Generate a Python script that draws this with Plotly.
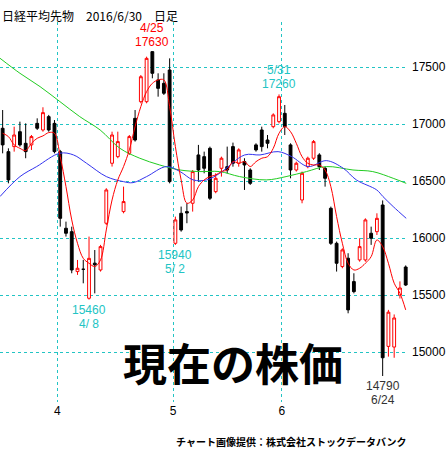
import plotly.graph_objects as go

idx = list(range(1, 72))
opens = [16963,16758,16802,16933,16831,16817,17006,16948,17065,17006,
         16758,16086,16056,15706,15726,15472,15780,15720,16130,16656,
         16714,16232,16743,17050,17196,17196,17635,17387,17357,17474,
         15954,16217,16232,16305,16729,16714,16787,16407,16612,16626,
         16802,16656,16670,16597,16817,16948,16860,16977,17021,17094,
         16817,16597,16334,16626,16700,16729,16612,16261,15954,15750,
         15823,15618,15808,15808,16042,16056,16290,15050,15044,15500,15746]
highs = [17123,16787,16977,17021,17006,16904,17050,17147,17080,17035,
         16773,16144,16100,15808,15808,16013,15895,15940,16437,16933,
         16933,16451,16904,17123,17430,17591,17630,17445,17445,17576,
         16188,16276,16305,16597,16817,16758,16802,16568,16714,16802,
         16837,16787,16700,16612,16831,16977,16904,17094,17260,17167,
         16831,16670,16583,16714,16860,16744,16626,16276,15969,15910,
         15867,15691,15998,16173,16100,16217,16330,15370,15330,15620,15760]
lows = [16743,16480,16758,16802,16700,16773,16948,16933,16933,16743,
        16100,16013,15691,15677,15603,15460,15515,15706,16115,16627,
        16700,16217,16729,16846,17182,17182,17401,17240,17255,16480,
        15940,16056,16130,16232,16495,16568,16334,16393,16539,16568,
        16626,16626,16422,16466,16758,16758,16787,16963,17006,16904,
        16524,16583,16305,16612,16685,16597,16451,15940,15706,15735,
        15340,15515,15793,15793,15940,16027,14790,14960,14950,15470,15580]
closes = [16817,16510,16904,16817,16758,16890,16963,17100,16948,16758,
          16173,16042,15720,15735,15726,15822,15765,15925,16422,16904,
          16846,16320,16890,16860,17415,17576,17445,17313,17270,16495,
          16159,16071,16220,16583,16597,16612,16349,16524,16700,16597,
          16656,16773,16641,16480,16773,16802,16831,17080,17240,16977,
          16597,16656,16568,16700,16846,16626,16524,15954,15779,15896,
          15370,15530,15925,16159,15998,16173,14950,15350,15299,15562,15588]

ma_short = [16919,16890,16817,16787,16767,16831,16875,16896,16925,16919,
            16714,16451,16159,15954,15822,15779,15750,15808,16071,16334,
            16510,16627,16773,16977,17153,17284,17357,17387,17387,17153,
            16802,16510,16305,16334,16451,16510,16539,16553,16583,16597,
            16670,16656,16670,16627,16670,16700,16714,16787,16919,16977,
            16933,16831,16714,16656,16641,16641,16597,16451,16188,15954,
            15779,15720,15735,15779,15837,15983,15925,15779,15604,15516,15370]

mid_x = [0.54,4.01,6.91,10.94,13.31,15.57,19.01,21.97,23.64,26.0,29.45,31.81,34.08,36.44,
         38.70,43.03,45.69,48.84,51.2,54.06,57.21,60.16,62.43,65.97,67.05,68.83,71.09]
mid_y = [16364,16539,16627,16744,16729,16656,16539,16495,16486,16539,16627,16583,16510,16510,
         16568,16729,16729,16758,16714,16627,16679,16612,16510,16422,16364,16276,16173]

long_x = [0.54,4.01,7.5,10.94,14.39,17.93,21.37,24.82,28.27,31.81,35.26,
          38.70,42.15,46.78,50.22,53.76,57.21,61.84,65.28,68.83,71.09]
long_y = [17577,17445,17328,17197,17065,16948,16787,16700,16641,16597,16583,
          16583,16539,16510,16539,16583,16627,16597,16583,16524,16480]

month_pos = [10.5, 30.6, 49.5]
month_labels = ["4", "5", "6"]
yticks = [15000, 15500, 16000, 16500, 17000, 17500]
ytick_labels = ["15000", "15500", "16000", "16500", "17000", "17500"]

FONT = "Noto Sans CJK JP"
NUM = "Liberation Sans"
CYAN = "#22c4c4"

fig = go.Figure()
fig.add_trace(go.Candlestick(
    x=idx, open=opens, high=highs, low=lows, close=closes,
    increasing=dict(line=dict(color="red", width=1), fillcolor="white"),
    decreasing=dict(line=dict(color="black", width=1), fillcolor="black"),
    whiskerwidth=0, showlegend=False, hoverinfo="skip"))
fig.add_trace(go.Scatter(x=long_x, y=long_y, mode="lines", line=dict(color="#22cc22", width=1, shape="spline"), showlegend=False, hoverinfo="skip"))
fig.add_trace(go.Scatter(x=mid_x, y=mid_y, mode="lines", line=dict(color="#3333ee", width=1, shape="spline"), showlegend=False, hoverinfo="skip"))
fig.add_trace(go.Scatter(x=idx, y=ma_short, mode="lines", line=dict(color="red", width=1, shape="spline"), showlegend=False, hoverinfo="skip"))

def lab(i, date, price, color, above):
    val = highs[i-1] if above else lows[i-1]
    anc = "bottom" if above else "top"
    s = 1 if above else -1
    fig.add_annotation(x=i, y=val, text=price, showarrow=False, yanchor=anc, yshift=s * 1,
                       font=dict(family=NUM, size=12, color=color))
    fig.add_annotation(x=i, y=val, text=date, showarrow=False, yanchor=anc, yshift=s * 15,
                       font=dict(family=NUM, size=12, color=color))

lab(27, "4/25", "17630", "red", True)
lab(49, "5/31", "17260", CYAN, True)
lab(16, "4/ 8", "15460", CYAN, False)
lab(31, "5/ 2", "15940", CYAN, False)
lab(67, "6/24", "14790", "#333333", False)

fig.add_annotation(x=0.0, y=1.0, xref="paper", yref="paper", xanchor="left", yanchor="bottom", yshift=-4,
                   text="日経平均先物　2016/6/30　日足", showarrow=False,
                   font=dict(family=FONT, size=12, color="black"))
fig.add_annotation(x=0.57, y=0.105, xref="paper", yref="paper", xanchor="center", yanchor="middle",
                   text="<b>現在の株価</b>", showarrow=False,
                   font=dict(family=FONT, size=44, color="black"))
fig.add_annotation(x=1.0, y=0, xref="paper", yref="paper", xanchor="right", yanchor="top", yshift=-30,
                   text="<b>チャート画像提供：株式会社ストックデータバンク</b>", showarrow=False,
                   font=dict(family=FONT, size=10, color="black"))

fig.update_layout(
    width=446, height=453, margin=dict(l=0, r=38, t=22, b=51),
    paper_bgcolor="white", plot_bgcolor="white",
    xaxis=dict(range=[0.54, 71.4], rangeslider=dict(visible=False), tickmode="array",
               tickvals=month_pos, ticktext=month_labels, showgrid=True,
               gridcolor=CYAN, griddash="dot", gridwidth=1, zeroline=False, showline=False,
               ticks="", tickfont=dict(family=NUM, size=12, color="black")),
    yaxis=dict(range=[14562, 17895], side="right", tickmode="array", tickvals=yticks,
               ticktext=ytick_labels, showgrid=True, gridcolor=CYAN, griddash="dot", gridwidth=1,
               zeroline=False, ticks="", ticklabelstandoff=3,
               tickfont=dict(family=NUM, size=12, color="black")),
)
fig.write_html("out.html", config={"displayModeBar": False},
               post_script="document.body.style.margin='0';document.body.style.overflow='hidden';")
